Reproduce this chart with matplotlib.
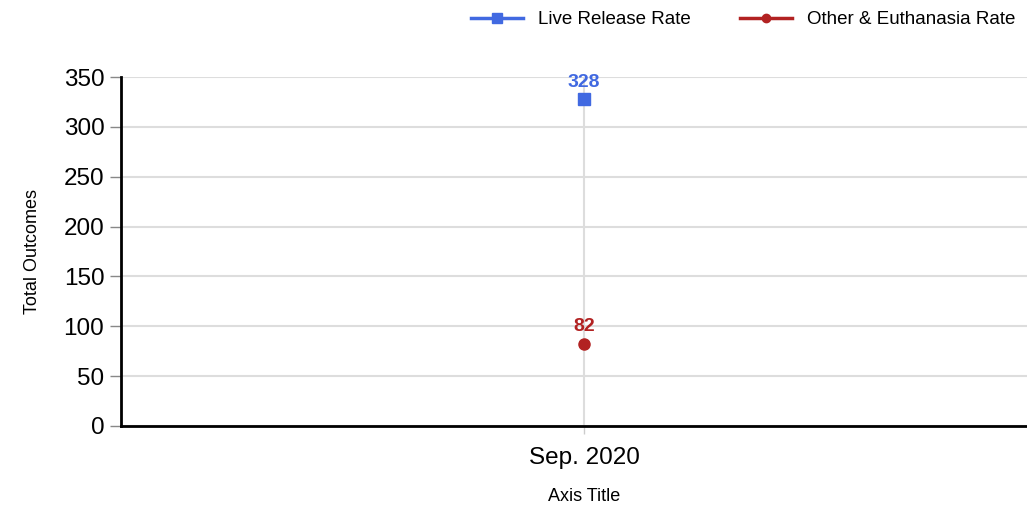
import matplotlib.pyplot as plt

plt.rcParams['font.family'] = ['Liberation Sans', 'DejaVu Sans']

categories = ['Sep. 2020']
live_release = [328]
other_euth = [82]
y_ticks = [0, 50, 100, 150, 200, 250, 300, 350]

blue = '#4169e1'
red = '#b22222'

fig = plt.figure(figsize=(10.27, 5.08), dpi=100)
# plot area runs past the right edge of the picture, like the reference
ax = fig.add_axes([121 / 1027, (508 - 426) / 508, (1047 - 121) / 1027, (426 - 77) / 508])

x = list(range(len(categories)))
ax.plot(x, live_release, marker='s', markersize=9, color=blue, linestyle='-', linewidth=2.5,
        label='Live Release Rate', zorder=3)
ax.plot(x, other_euth, marker='o', markersize=8, color=red, linestyle='-', linewidth=2.5,
        label='Other & Euthanasia Rate', zorder=3)

for xi, v in zip(x, live_release):
    ax.annotate(str(v), (xi, v), xytext=(0, 6), textcoords='offset points', ha='center', va='bottom',
                color=blue, fontsize=14, fontweight='bold')
for xi, v in zip(x, other_euth):
    ax.annotate(str(v), (xi, v), xytext=(0, 7), textcoords='offset points', ha='center', va='bottom',
                color=red, fontsize=14, fontweight='bold')

ax.set_xlim(-0.5, 0.5)
ax.set_ylim(0, 350)
ax.set_yticks(y_ticks)
ax.set_xticks(x)
ax.set_xticklabels(categories, fontsize=17.5)
ax.tick_params(axis='y', labelsize=17.5, length=8, width=1, color='#888888', pad=4)
ax.tick_params(axis='x', length=6, width=1, color='#cccccc', pad=9)

ax.grid(True, color='#dddddd', linewidth=1.5)
ax.set_axisbelow(True)
for s in ['top', 'right']:
    ax.spines[s].set_visible(False)
ax.spines['left'].set_linewidth(2)
ax.spines['bottom'].set_linewidth(2)

ax.set_ylabel('Total Outcomes', fontsize=13, labelpad=16)
ax.set_xlabel('Axis Title', fontsize=13, labelpad=14)

fig.legend(loc='upper right', bbox_to_anchor=(1.0, 1.0), ncol=2, frameon=False, fontsize=13.5,
           handlelength=2.8, columnspacing=2.6, borderaxespad=0.2, markerscale=0.75)

fig.savefig('out.png', dpi=100)
